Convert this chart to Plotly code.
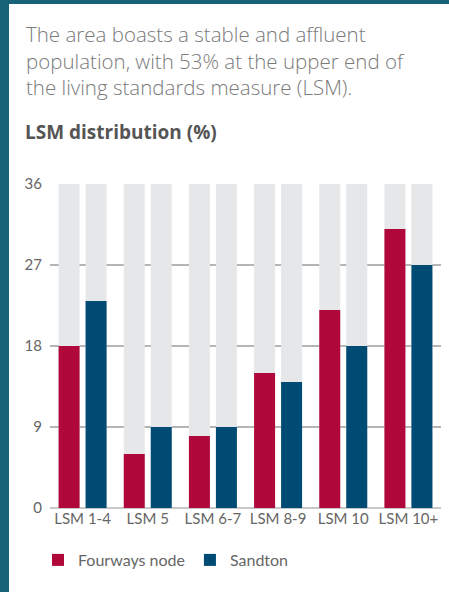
import plotly.graph_objects as go

categories = ["LSM 1-4", "LSM 5", "LSM 6-7", "LSM 8-9", "LSM 10", "LSM 10+"]
fourways = [18, 6, 8, 15, 22, 31]
sandton = [23, 9, 9, 14, 18, 27]
axis_max = 36
tick_vals = [0, 9, 18, 27, 36]

W, H = 449, 592
L, R, T, B = 50, 8, 184, 84
pw, ph = W - L - R, H - T - B

def px(x):
    return (x - L) / pw

def py(y):
    return (H - B - y) / ph

cat_px = pw / len(categories)
bw = 21 / cat_px
off_a = -24 / cat_px
off_b = 3 / cat_px

RED = "#b0083a"
BLUE = "#004b73"
GRAY = "#e6e7e9"
TEAL = "#176276"

fig = go.Figure()
bg = [axis_max] * len(categories)
for off in (off_a, off_b):
    fig.add_trace(go.Bar(x=categories, y=bg, width=bw, offset=off, marker_color=GRAY,
                         marker_line_width=0, showlegend=False, hoverinfo="skip"))
fig.add_trace(go.Bar(x=categories, y=fourways, width=bw, offset=off_a, name="Fourways node",
                     marker_color=RED, marker_line_width=0))
fig.add_trace(go.Bar(x=categories, y=sandton, width=bw, offset=off_b, name="Sandton",
                     marker_color=BLUE, marker_line_width=0))

shapes = [
    dict(type="rect", xref="paper", yref="paper", x0=px(0), x1=px(9), y0=py(H), y1=py(0),
         fillcolor=TEAL, line_width=0, layer="above"),
    dict(type="rect", xref="paper", yref="paper", x0=px(0), x1=px(W), y0=py(4), y1=py(0),
         fillcolor=TEAL, line_width=0, layer="above"),
]

annotations = [
    dict(text="The area boasts a stable and affluent<br>population, with 53% at the upper end of<br>the living standards measure (LSM).",
         xref="paper", yref="paper", x=px(24), y=py(18), xanchor="left", yanchor="top",
         align="left", showarrow=False,
         font=dict(family="Open Sans", size=20.5, color="#7a7a7a", weight=300)),
    dict(text="<b>LSM distribution (%)</b>",
         xref="paper", yref="paper", x=px(23), y=py(132), xanchor="left", yanchor="middle",
         align="left", showarrow=False,
         font=dict(family="Open Sans", size=19, color="#555555")),
]

fig.update_layout(
    width=W, height=H,
    margin=dict(l=L, r=R, t=T, b=B, pad=0),
    paper_bgcolor="white", plot_bgcolor="white",
    barmode="overlay",
    shapes=shapes, annotations=annotations,
    font=dict(family="Lato", color="#666666", size=15),
    showlegend=True,
    legend=dict(orientation="h", x=px(38), y=py(543), xanchor="left", yanchor="top",
                font=dict(size=16, color="#666666"), bgcolor="rgba(0,0,0,0)",
                itemclick=False, traceorder="normal"),
    xaxis=dict(showgrid=False, showline=False, ticks="", tickfont=dict(size=15, color="#666666"),
               fixedrange=True),
    yaxis=dict(range=[0, axis_max], tickvals=tick_vals, showgrid=True, gridcolor="#b5b5b5",
               gridwidth=1.5, zeroline=True, zerolinecolor="#c8c8c8", zerolinewidth=2,
               ticks="", ticklabelstandoff=7, tickfont=dict(size=15, color="#666666"),
               fixedrange=True),
)

fig.write_html("out.html", config={"displayModeBar": False},
               post_script="document.body.style.margin='0';document.body.style.overflow='hidden';")
